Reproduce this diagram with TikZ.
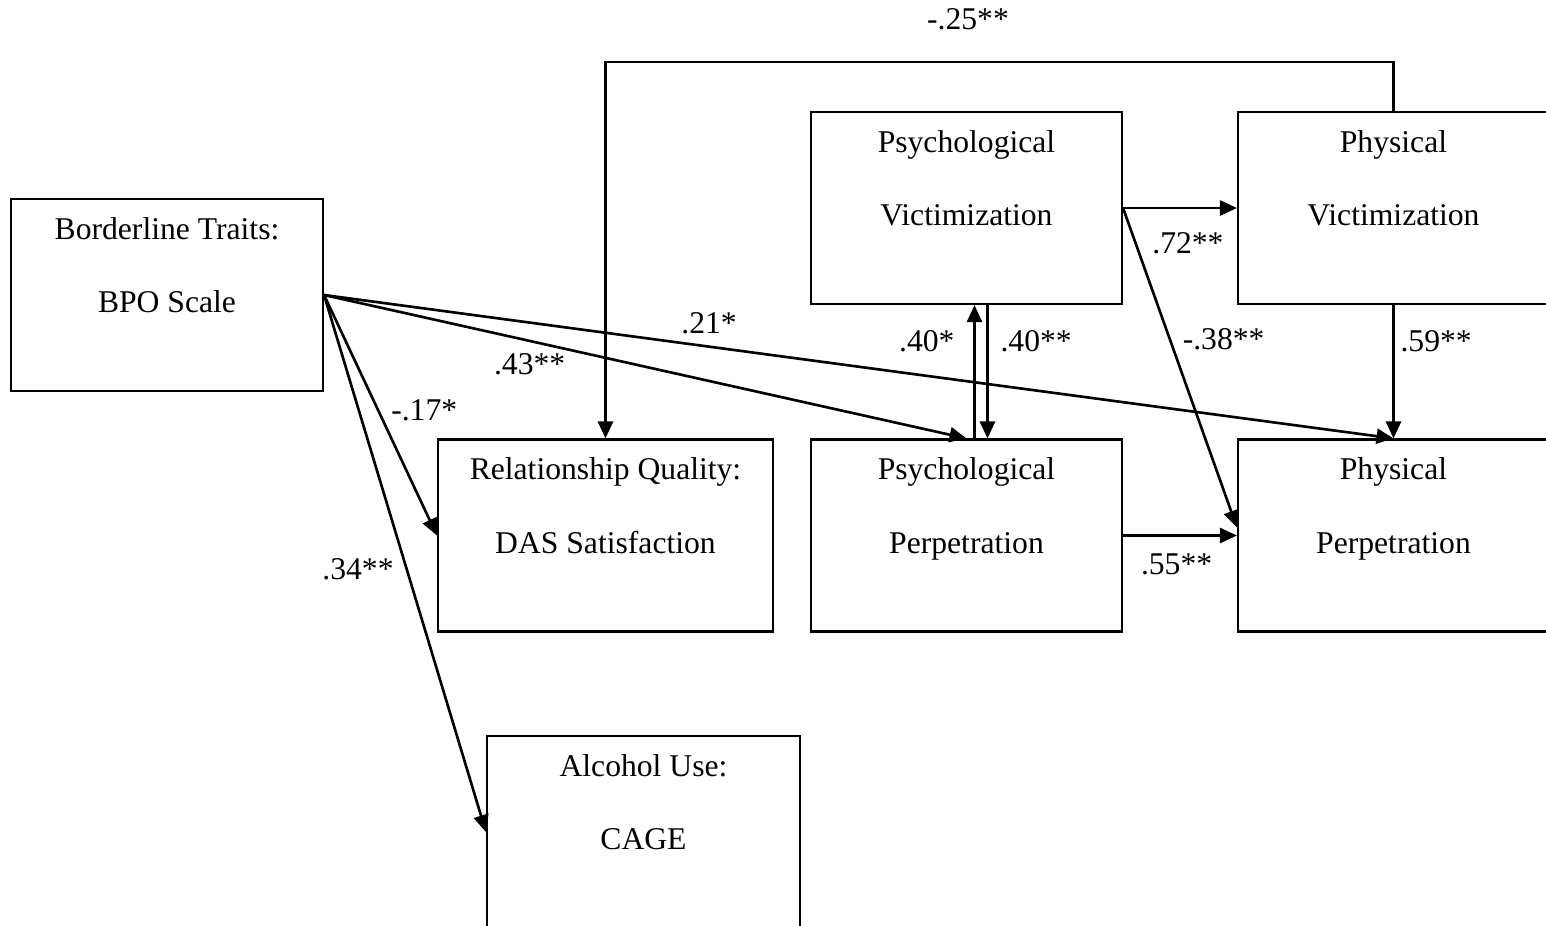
\documentclass[tikz,border=0pt]{standalone}
\usepackage{fontspec}
\setmainfont{Liberation Serif}
\usetikzlibrary{arrows.meta,positioning,calc}
\newcommand{\boxtxt}[3]{\parbox[c][1.92cm][t]{#1}{\centering\rule{0pt}{0.40cm}#2\\#3}}

\begin{document}
\begin{tikzpicture}[font=\fontsize{9}{21}\selectfont,box/.style={draw=black,line width=0.6pt,inner sep=0pt},arr/.style={-{Triangle[length=1.7mm,width=1.5mm]},line width=0.75pt}]
    \useasboundingbox (0,0) rectangle (15.46,-9.26);
    % Boxes, laid out on the page grid
    \node[box] at (1.67,-2.95) (bpo) {\boxtxt{3.12cm}{Borderline Traits:}{BPO Scale}};
    \node[box] at (9.665,-2.08) (pv) {\boxtxt{3.11cm}{Psychological}{Victimization}};
    \node[box] at (13.935,-2.08) (phv) {\boxtxt{3.11cm}{Physical}{Victimization}};
    \node[box] at (6.055,-5.355) (rq) {\boxtxt{3.35cm}{Relationship Quality:}{DAS Satisfaction}};
    \node[box] at (9.665,-5.355) (pp) {\boxtxt{3.11cm}{Psychological}{Perpetration}};
    \node[box] at (13.935,-5.355) (php) {\boxtxt{3.11cm}{Physical}{Perpetration}};
    \node[box] at (6.435,-8.32) (alc) {\boxtxt{3.13cm}{Alcohol Use:}{CAGE}};
    
    % Paths from borderline traits
    \draw[arr] (bpo.east) -- node[pos=0.36,above]{.21*} (php.north);
    \draw[arr] (bpo.east) -- node[pos=0.32,below]{.43**} (pp.north);
    \draw[arr] (bpo.east) -- node[pos=0.48,right]{-.17*} (rq.west);
    \draw[arr] (bpo.east) -- node[pos=0.51,left]{.34**} (alc.west);
    % Victimization and perpetration paths
    \draw[arr] (pv.east) -- node[pos=0.57,below=1.2mm]{.72**} (phv.west);
    \draw[arr] (pv.east) -- node[pos=0.41,right]{-.38**} ($(php.west)+(0,0.08)$);
    \draw[arr] (phv.south) -- node[pos=0.27,right=-0.6mm]{.59**} (php.north);
    \draw[arr] ($(pp.north)+(0.08,0)$) -- node[pos=0.73,left=0.7mm]{.40*} ($(pv.south)+(0.08,0)$);
    \draw[arr] ($(pv.south)+(0.21,0)$) -- node[pos=0.27,right]{.40**} ($(pp.north)+(0.21,0)$);
    \draw[arr] (pp.east) -- node[pos=0.47,below=0.5mm]{.55**} (php.west);
    \draw[arr] (phv.north) -- ++(0,0.49) -| node[pos=0.27,above=1.9mm]{-.25**} (rq.north);
\end{tikzpicture}
\end{document}
